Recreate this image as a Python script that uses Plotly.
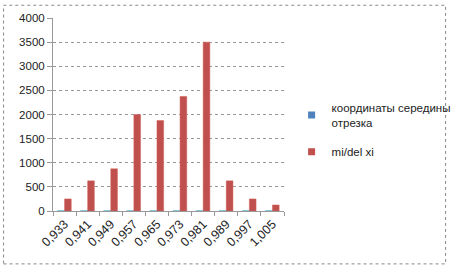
import plotly.graph_objects as go

categories = ["0,933", "0,941", "0,949", "0,957", "0,965", "0,973", "0,981", "0,989", "0,997", "1,005"]
midpoints = [0.933, 0.941, 0.949, 0.957, 0.965, 0.973, 0.981, 0.989, 0.997, 1.005]
mi_del_xi = [250, 625, 875, 2000, 1875, 2375, 3500, 625, 250, 125]
series_names = ["координаты середины<br>отрезка", "mi/del xi"]
series_colors = ["#4F81BD", "#C0504D"]

fig = go.Figure()
fig.add_trace(go.Bar(x=categories, y=midpoints, name=series_names[0], showlegend=False,
                     marker=dict(color=series_colors[0], line=dict(color="#4BACC6", width=1.2))))
fig.add_trace(go.Bar(x=categories, y=mi_del_xi, name=series_names[1], showlegend=False,
                     marker=dict(color=series_colors[1], line=dict(color="#D0605D", width=0.5))))
# legend entries with small square keys
for i, (nm, col) in enumerate(zip(series_names, series_colors)):
    fig.add_trace(go.Scatter(x=[None], y=[None], mode="markers", name=nm,
                             legendgroup=f"g{i}",
                             marker=dict(symbol="square", size=7, color=col)))

L, R, T, B = 53, 172, 14, 56
W, H = 468, 267
pw, ph = W - L - R, H - T - B

fig.update_layout(
    width=W, height=H,
    margin=dict(l=L, r=R, t=T, b=B),
    paper_bgcolor="white", plot_bgcolor="white",
    barmode="group", bargap=0.42, bargroupgap=0,
    font=dict(family="Liberation Sans", size=11, color="#222"),
    showlegend=True,
    legend=dict(x=(304 - L) / pw, y=(H - B - 91) / ph, xanchor="left", yanchor="top",
                font=dict(size=11.5, color="#222"), tracegroupgap=11,
                itemwidth=30, bgcolor="rgba(0,0,0,0)"),
    shapes=[dict(type="rect", xref="paper", yref="paper",
                 x0=(1 - L) / pw, x1=(W - 2 - L) / pw,
                 y0=-(B - 2) / ph, y1=1 + (T - 1) / ph,
                 line=dict(color="#888", width=1, dash="dot"))],
)
fig.update_xaxes(type="category", showline=True, linecolor="#999", linewidth=1,
                 ticks="outside", ticklen=4, tickcolor="#999", tickson="boundaries",
                 tickangle=-45, tickfont=dict(size=12.5), showgrid=False)
fig.update_yaxes(range=[0, 4000], dtick=500, showline=True, linecolor="#999", linewidth=1,
                 ticks="outside", ticklen=5, tickcolor="#999",
                 showgrid=True, gridcolor="#999", griddash="dot", gridwidth=1,
                 zeroline=False, tickfont=dict(size=11.5))

fig.write_html("out.html")
